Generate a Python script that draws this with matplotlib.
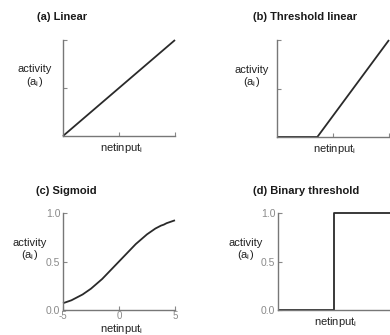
import matplotlib.pyplot as plt

plt.rcParams['font.family'] = ['Liberation Sans', 'DejaVu Sans']
plt.rcParams['mathtext.fontset'] = 'custom'
plt.rcParams['mathtext.rm'] = 'Liberation Sans'
plt.rcParams['mathtext.it'] = 'Liberation Sans'

# (a) linear
lin_x = [0, 1]
lin_y = [0, 1]

# (b) threshold linear
thr_x = [0, 0.36, 1]
thr_y = [0, 0, 1]

# (c) sigmoid, values
sig_x = [-5, -4.75, -4.5, -4.25, -4, -3.75, -3.5, -3.25, -3, -2.75, -2.5,
         -2.25, -2, -1.75, -1.5, -1.25, -1, -0.75, -0.5, -0.25, 0,
         0.25, 0.5, 0.75, 1, 1.25, 1.5, 1.75, 2, 2.25, 2.5,
         2.75, 3, 3.25, 3.5, 3.75, 4, 4.25, 4.5, 4.75, 5]
sig_y = [0.07, 0.08, 0.09, 0.10, 0.115, 0.13, 0.145, 0.16, 0.18, 0.20, 0.22,
         0.245, 0.27, 0.295, 0.32, 0.35, 0.38, 0.41, 0.44, 0.47, 0.50,
         0.53, 0.56, 0.59, 0.62, 0.65, 0.68, 0.705, 0.73, 0.755, 0.78,
         0.80, 0.82, 0.84, 0.855, 0.87, 0.88, 0.895, 0.905, 0.915, 0.925]

# (d) binary threshold
bin_x = [0, 0.5, 0.5, 1]
bin_y = [0, 0, 1, 1]

titles = ['(a) Linear', '(b) Threshold linear', '(c) Sigmoid', '(d) Binary threshold']

W, H = 390, 335
fig = plt.figure(figsize=(3.9, 3.35), dpi=100)

def px_axes(left, top, right, bottom):
    return fig.add_axes([left / W, 1 - bottom / H, (right - left) / W, (bottom - top) / H])

ax_a = px_axes(63, 40, 175, 136)
ax_b = px_axes(277, 40, 389, 137)
ax_c = px_axes(63, 213, 175, 310)
ax_d = px_axes(278, 213, 390, 310)

line_kw = dict(color='#2a2a2a', lw=1.3, solid_capstyle='butt',
               solid_joinstyle='round', clip_on=False)
ax_a.plot(lin_x, lin_y, **line_kw)
ax_b.plot(thr_x, thr_y, **line_kw)
ax_c.plot(sig_x, sig_y, **line_kw)
ax_d.plot(bin_x, bin_y, **line_kw)

for ax in (ax_a, ax_b, ax_c, ax_d):
    for s in ('top', 'right'):
        ax.spines[s].set_visible(False)
    for s in ('left', 'bottom'):
        ax.spines[s].set_color('#777777')
        ax.spines[s].set_linewidth(1.0)
    ax.tick_params(direction='in', length=3, width=0.8, color='#888888',
                   labelcolor='#8a8a8a', labelsize=7.5, pad=2)
    ax.set_ylim(0, 1)
ax_c.tick_params(axis='x', labelsize=7, pad=1)

for ax in (ax_a, ax_b):
    ax.set_xlim(0, 1)
    ax.set_xticks([0.5, 1])
    ax.set_yticks([0.5, 1])
    ax.set_xticklabels([])
    ax.set_yticklabels([])

ax_c.set_xlim(-5, 5)
ax_c.set_xticks([-5, 0, 5])
ax_c.set_xticklabels(['-5', '0', '5'])
ax_c.set_yticks([0, 0.5, 1])
ax_c.set_yticklabels(['0.0', '0.5', '1.0'])

ax_d.set_xlim(0, 1)
ax_d.set_xticks([])
ax_d.set_yticks([0, 0.5, 1])
ax_d.set_yticklabels(['0.0', '0.5', '1.0'])

lab_kw = dict(fontsize=8, color='#222222', ha='center', va='center')
ylab = 'activity\n(a$_i$)'
ax_a.text(-0.25, 0.62, ylab, transform=ax_a.transAxes, linespacing=1.05, **lab_kw)
ax_b.text(-0.23, 0.62, ylab, transform=ax_b.transAxes, linespacing=1.05, **lab_kw)
ax_c.text(-0.30, 0.62, ylab, transform=ax_c.transAxes, linespacing=1.05, **lab_kw)
ax_d.text(-0.29, 0.62, ylab, transform=ax_d.transAxes, linespacing=1.05, **lab_kw)

xlab = 'netinput$_i$'
ax_a.text(0.52, -0.13, xlab, transform=ax_a.transAxes, **lab_kw)
ax_b.text(0.51, -0.12, xlab, transform=ax_b.transAxes, **lab_kw)
ax_c.text(0.52, -0.125, xlab, transform=ax_c.transAxes, fontsize=8,
          color='#222222', ha='center', va='top')
ax_d.text(0.51, -0.12, xlab, transform=ax_d.transAxes, **lab_kw)

title_pos = [(37, 17), (253, 17), (36, 191), (253, 191)]
for t, (x, y) in zip(titles, title_pos):
    fig.text(x / W, 1 - y / H, t, fontsize=8, fontweight='bold',
             color='#1a1a1a', ha='left', va='center')

fig.savefig('out.png', dpi=100, facecolor='white')
